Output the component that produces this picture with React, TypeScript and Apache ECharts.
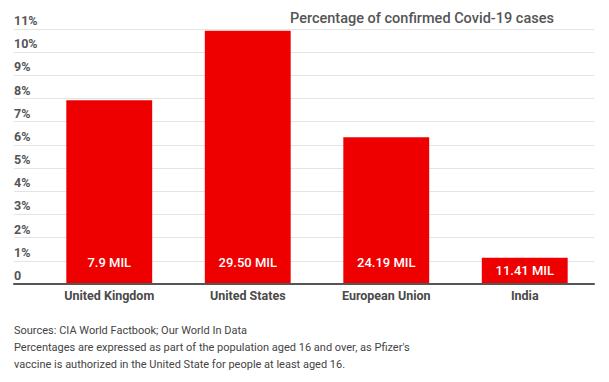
import React, { useEffect, useRef } from "react";
import * as echarts from "echarts";

const categories = ["United Kingdom", "United States", "European Union", "India"];
const percentValues = [7.93, 10.92, 6.33, 1.13];
const barLabels = ["7.9 MIL", "29.50 MIL", "24.19 MIL", "11.41 MIL"];
const yTickLabels = ["0", "1%", "2%", "3%", "4%", "5%", "6%", "7%", "8%", "9%", "10%", "11%"];
const title = "Percentage of confirmed Covid-19 cases";
const footnotes = [
  "Sources: CIA World Factbook; Our World In Data",
  "Percentages are expressed as part of the population aged 16 and over, as Pfizer's",
  "vaccine is authorized in the United State for people at least aged 16.",
];

const FONT = "Roboto, 'Noto Sans', sans-serif";

export default function App() {
  const ref = useRef<HTMLDivElement>(null);
  useEffect(() => {
    if (!ref.current) return;
    const chart = echarts.init(ref.current, null, { renderer: "svg" });
    const RED = "#ee0000";
    chart.setOption({
      animation: false,
      backgroundColor: "#ffffff",
      textStyle: { fontFamily: FONT },
      grid: [
        { left: 40, right: 15, top: 29, bottom: 98, outerBoundsMode: "none" },
        { left: 14, right: 15, top: 29, bottom: 98, outerBoundsMode: "none" },
      ],
      xAxis: [
        {
          type: "category",
          gridIndex: 0,
          data: categories,
          axisLine: { show: false },
          axisTick: { show: false },
          axisLabel: {
            color: "#4a4a4a",
            fontSize: 12.5,
            fontWeight: "bold",
            fontFamily: FONT,
            margin: 5,
          },
          z: 5,
        },
        {
          type: "value",
          gridIndex: 1,
          min: 0,
          max: 1,
          axisLine: { show: true, onZero: false, lineStyle: { color: "#555555", width: 2 } },
          axisTick: { show: false },
          axisLabel: { show: false },
          splitLine: { show: false },
          z: 6,
        },
      ],
      yAxis: [
        {
          type: "value",
          gridIndex: 0,
          min: 0,
          max: 11,
          interval: 1,
          axisLine: { show: false },
          axisTick: { show: false },
          axisLabel: { show: false },
          splitLine: { show: false },
        },
        {
          type: "value",
          gridIndex: 1,
          min: 0,
          max: 11,
          interval: 1,
          axisLine: { show: false },
          axisTick: { show: false },
          splitLine: { show: true, lineStyle: { color: "#e4e4e4", width: 1 } },
          axisLabel: {
            inside: true,
            margin: 0,
            align: "left",
            verticalAlign: "bottom",
            padding: [0, 0, 2, 0],
            color: "#555555",
            fontSize: 12.5,
            fontWeight: "bold",
            fontFamily: FONT,
            formatter: (v: number) => yTickLabels[Math.round(v)] ?? "",
          },
        },
      ],
      series: [
        {
          type: "bar",
          xAxisIndex: 0,
          yAxisIndex: 0,
          barWidth: "62%",
          z: 3,
          data: percentValues.map((v) => ({
            value: v,
            label:
              v < 2
                ? { position: "inside" }
                : { position: "insideBottom", distance: 15 },
          })),
          itemStyle: { color: RED },
          label: {
            show: true,
            color: "#ffffff",
            fontSize: 13,
            fontWeight: 500,
            fontFamily: FONT,
            formatter: (p: any) => barLabels[p.dataIndex],
          },
        },
      ],
      graphic: [
        {
          type: "text",
          left: 290,
          top: 11,
          style: {
            text: title,
            fill: "#555555",
            font: `500 14.5px ${FONT}`,
          },
        },
        {
          type: "text",
          left: 14,
          top: 322,
          style: {
            text: footnotes.join("\n"),
            fill: "#444444",
            font: `11px ${FONT}`,
            lineHeight: 17,
          },
        },
      ],
    });
    return () => chart.dispose();
  }, []);
  return <div ref={ref} style={{ width: 609, height: 382, position: "absolute", left: 0, top: 0 }} />;
}
